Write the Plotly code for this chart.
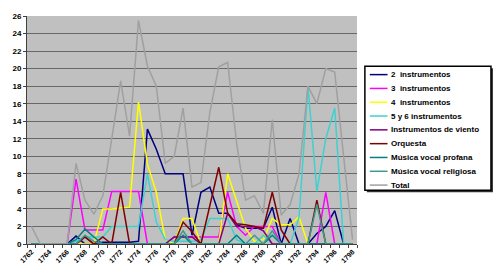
import plotly.graph_objects as go

years = list(range(1762, 1799))

series_names = [
    "2  instrumentos",
    "3  instrumentos",
    "4  instrumentos",
    "5 y 6 instrumentos",
    "Instrumentos de viento",
    "Orquesta",
    "Música vocal profana",
    "Música vocal religiosa",
    "Total",
]

dos_instr = [0, 0, 0, 0, 0, 0.9, 0, 0, 0.2, 0.2, 0.2, 0.2, 0.3, 13.1, 10.8, 8, 8, 8, 1, 5.9,
             6.5, 3.5, 3.5, 2.2, 1.8, 1.8, 1.8, 4.2, 0, 2.9, 0, 0, 1.2, 2, 3.8, 0, 0]
tres_instr = [0, 0, 0, 0, 0, 7.4, 1.6, 1.6, 1.6, 6, 6, 6, 6, 0, 0, 0, 0.8, 0.8, 0.8, 0.8,
              0.8, 0.8, 5.9, 2, 1, 2, 2, 2, 0, 0, 0, 0, 0, 5.9, 0, 0, 0]
cuatro_instr = [0, 0, 0, 0, 0, 0, 0, 0, 4, 4, 4.1, 4.2, 16.2, 9.1, 5.9, 0.5, 0, 2.9, 2.9, 0,
                0, 0, 8, 5, 1.8, 0.3, 0.5, 2.9, 2.2, 2.2, 3.1, 0, 0, 0, 0, 0, 0]
cinco_seis = [0, 0, 0, 0, 0, 0.3, 0.8, 0.8, 0.8, 2, 2, 2, 2, 8, 2.5, 0.5, 0.3, 0.3, 0.3, 0.5,
              2.9, 2.9, 2.9, 0.5, 0, 0, 1, 0, 0, 0, 3, 18, 6, 12, 15.5, 0, 0]
viento = [0, 0, 0, 0, 0, 0, 0.8, 0, 0, 0, 0, 0, 0, 0, 0, 0, 0.8, 0.8, 0.8, 0,
          0, 0, 3.5, 2, 2, 2, 1.5, 0, 0, 0, 0, 0, 0, 0, 0, 0, 0]
orquesta = [0, 0, 0, 0, 0, 0, 0.8, 0, 0.8, 0, 5.9, 0, 0, 0, 0, 0, 0, 2.5, 1.4, 0,
            4.4, 8.75, 3.5, 2.3, 2.2, 2, 1.8, 5.9, 1.6, 0, 0, 0, 5, 0, 0, 0, 0]
vocal_profana = [0, 0, 0, 0, 0, 0.5, 1.7, 0.8, 0, 0, 0, 0, 0, 0, 0, 0, 0, 1, 0, 0,
                 0, 0, 0, 1, 0, 0, 0, 1, 0, 0, 0, 0, 0, 0, 0, 0, 0]
vocal_religiosa = [0, 0, 0, 0, 0, 0, 1, 0.3, 0, 0, 0, 0, 0, 0, 0, 0, 0, 1.5, 0, 0,
                   0, 0, 0, 0, 0, 1, 0, 1.5, 0, 0, 0, 0, 4.5, 0, 0, 0, 0]
total = [2, 0, 0, 0, 0, 9.2, 5, 3.4, 5.5, 12, 18.6, 12.3, 25.5, 20.3, 18.0, 9.2, 10, 15.5, 6.5, 7,
         15, 20.2, 20.7, 11.5, 5, 5.5, 3.5, 14.2, 3.3, 4.5, 8, 18, 16, 20, 19.6, 10, 0.5]

all_values = [dos_instr, tres_instr, cuatro_instr, cinco_seis, viento, orquesta,
              vocal_profana, vocal_religiosa, total]

colors = ["#000080", "#FF00FF", "#FFFF00", "#40D0D0", "#800080", "#800000",
          "#008080", "#3C9C8C", "#A0A0A0"]

tick_years = years[::2]

FONT = "Liberation Sans, Arial, sans-serif"

fig = go.Figure()
for name, vals, col in zip(series_names, all_values, colors):
    fig.add_trace(go.Scatter(x=years, y=vals, mode="lines", name=name,
                             line=dict(color=col, width=1.5), cliponaxis=False,
                             showlegend=False))

W, H = 500, 279
L, R, T, B = 22, 357, 14.5, 244


def px_x(p):
    return (p - L) / (R - L)


def px_y(p):
    return (B - p) / (B - T)


shapes = []
annotations = []
# legend box
bx0, bx1, by0, by1 = 365, 493, 65, 190
shapes.append(dict(type="rect", xref="paper", yref="paper",
                   x0=px_x(bx0 + 2), x1=px_x(bx1 + 2), y0=px_y(by1 + 2), y1=px_y(by0 + 2),
                   line=dict(width=0), fillcolor="#303030", layer="above"))
shapes.append(dict(type="rect", xref="paper", yref="paper",
                   x0=px_x(bx0), x1=px_x(bx1), y0=px_y(by1), y1=px_y(by0),
                   line=dict(color="black", width=1.5), fillcolor="white", layer="above"))
row0, row_step = 73.5, 13.9
for i, (name, col) in enumerate(zip(series_names, colors)):
    yy = row0 + i * row_step
    shapes.append(dict(type="line", xref="paper", yref="paper",
                       x0=px_x(370), x1=px_x(388), y0=px_y(yy), y1=px_y(yy),
                       line=dict(color=col, width=1.5), layer="above"))
    annotations.append(dict(xref="paper", yref="paper", x=px_x(389), y=px_y(yy),
                            xanchor="left", yanchor="middle", showarrow=False,
                            text=name, font=dict(family=FONT, size=8, color="black",
                                                 weight="bold")))

fig.update_layout(
    width=W, height=H,
    margin=dict(l=L, r=W - R, t=T, b=H - B),
    paper_bgcolor="white",
    plot_bgcolor="#C0C0C0",
    showlegend=False,
    shapes=shapes,
    annotations=annotations,
    xaxis=dict(
        range=[1761.5, 1798.5],
        tickvals=tick_years,
        ticktext=[str(y) for y in tick_years],
        tickangle=-45,
        tickfont=dict(family=FONT, size=7, color="black", weight="bold"),
        showgrid=False,
        zeroline=False,
        showline=True, linecolor="#404040", linewidth=1,
        ticks="",
        minor=dict(ticks="outside", ticklen=3, tickcolor="#404040", dtick=1,
                   tick0=1761.5, showgrid=False),
    ),
    yaxis=dict(
        range=[0, 26],
        dtick=2,
        tickfont=dict(family=FONT, size=8, color="black", weight="bold"),
        showgrid=True, gridcolor="#686868", gridwidth=1,
        zeroline=False,
        showline=True, linecolor="#404040", linewidth=1,
        ticks="outside", ticklen=3, tickcolor="#404040",
    ),
)

fig.write_html("out.html")
